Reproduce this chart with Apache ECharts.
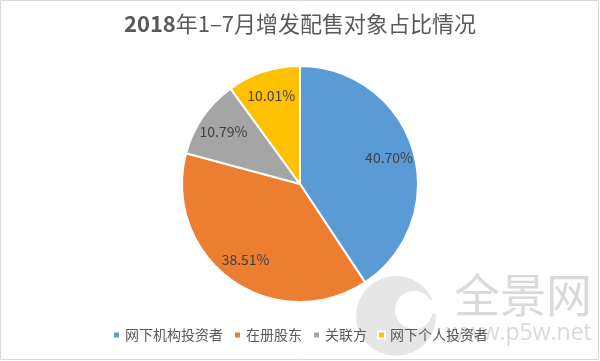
<!DOCTYPE html>
<html><head><meta charset="utf-8">
<script src="https://cdn.jsdelivr.net/npm/echarts@6/dist/echarts.min.js"></script>
<style>html,body{margin:0;padding:0;background:#fff}#c{width:600px;height:361px}</style>
</head><body><div id="c"></div>
<script>
const titleYear = '2018';
const titleRest = '年1–7月增发配售对象占比情况';
const categories = ['网下机构投资者', '在册股东', '关联方', '网下个人投资者'];
const values = [40.70, 38.51, 10.79, 10.01];
const colors = ['#5B9BD5', '#ED7D31', '#A5A5A5', '#FFC000'];

const FONT = '"Noto Sans CJK SC", "Noto Sans", sans-serif';
const data = categories.map((n, i) => ({ name: n, value: values[i], itemStyle: { color: colors[i] } }));
const chart = echarts.init(document.getElementById('c'), null, { renderer: 'canvas' });
chart.setOption({
  animation: false,
  backgroundColor: '#fff',
  title: {
    text: '{b|' + titleYear + '}{n|' + titleRest + '}', left: 'center', top: 8,
    textStyle: {
      rich: {
        b: { fontFamily: FONT, fontSize: 22, fontWeight: 'bold', color: '#595959' },
        n: { fontFamily: FONT, fontSize: 22, fontWeight: 'normal', color: '#595959' }
      }
    }
  },
  legend: {
    bottom: 14, left: 'center', icon: 'rect', itemWidth: 7, itemHeight: 7, itemGap: 10,
    textStyle: { fontFamily: FONT, fontSize: 14, color: '#595959' },
    data: categories
  },
  graphic: [
    { type: 'rect', z: -10, shape: { x: 0.5, y: 0.5, width: 598, height: 359 }, style: { fill: 'none', stroke: '#d9d9d9', lineWidth: 1 } },
    { type: 'circle', z: -5, shape: { cx: 396, cy: 316, r: 40 }, style: { fill: '#e6e6e6' } },
    { type: 'circle', z: -5, shape: { cx: 414, cy: 310, r: 19 }, style: { fill: '#ffffff' } },
    { type: 'rect', z: -5, shape: { x: 425, y: 300, width: 20, height: 14 }, style: { fill: '#ffffff' } },
    { type: 'text', z: -5, left: 454, top: 272, style: { text: '全景网', fontFamily: FONT, fontSize: 46, fill: '#dadada' } },
    { type: 'text', z: -5, left: 446, top: 322, style: { text: 'www.p5w.net', fontFamily: '"Open Sans", sans-serif', fontSize: 23, fill: '#dadada' } }
  ],
  series: [
    {
      type: 'pie', center: [300, 184], radius: [0, 118], startAngle: 90, clockwise: true,
      data: data,
      itemStyle: { borderColor: '#fff', borderWidth: 2 },
      label: { show: false }, labelLine: { show: false }, emphasis: { disabled: true }, silent: true
    },
    {
      type: 'pie', center: [300, 184], radius: [62, 118], startAngle: 90, clockwise: true,
      data: categories.map((n, i) => ({ name: n, value: values[i] })),
      itemStyle: { color: 'rgba(0,0,0,0)', borderWidth: 0 },
      label: { show: true, position: 'inside', formatter: p => p.value.toFixed(2) + '%', fontFamily: FONT, fontSize: 14, color: '#404040' },
      labelLine: { show: false }, emphasis: { disabled: true }, silent: true
    }
  ]
});
</script></body></html>
